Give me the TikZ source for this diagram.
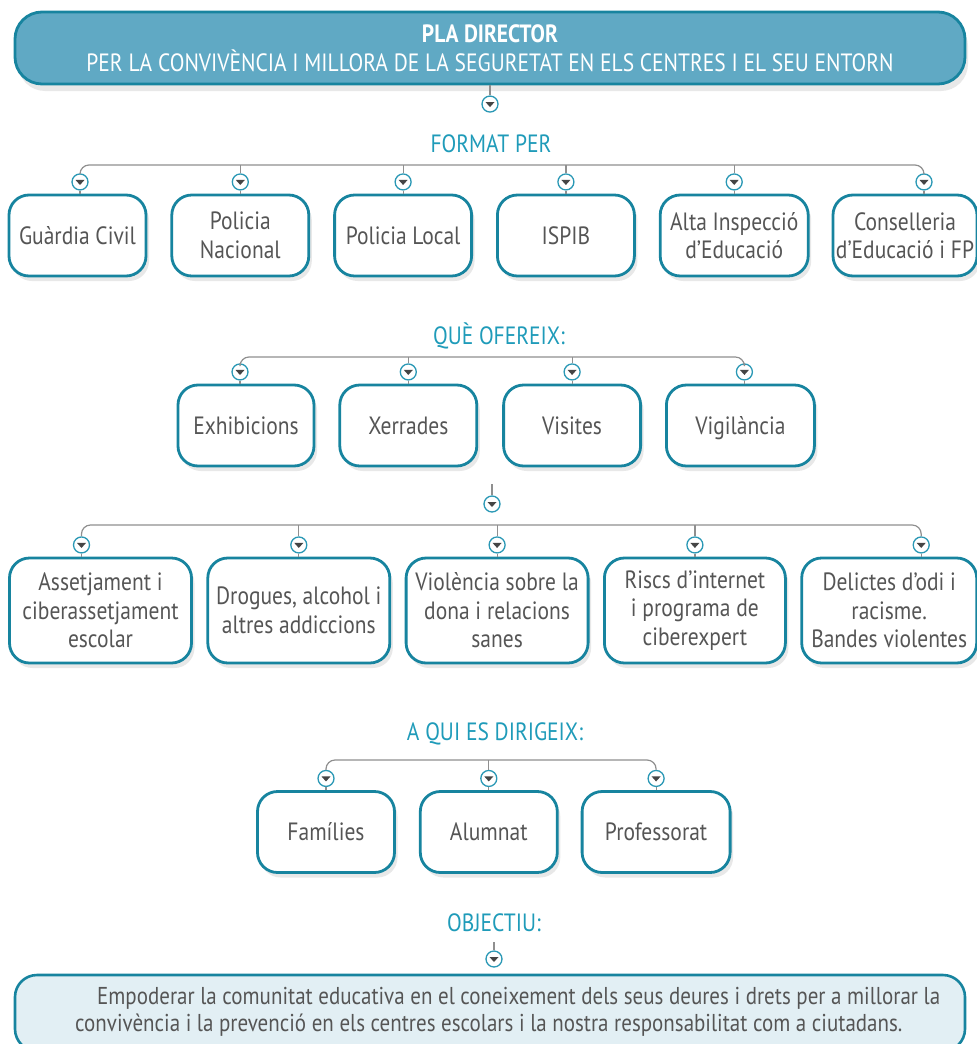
\documentclass[tikz,border=0pt]{standalone}
\usepackage{fontspec}
\setmainfont[FakeStretch=0.86]{PT Sans}
\usepackage{tikz}
\usetikzlibrary{positioning,shapes,shadows}
\definecolor{pdteal}{HTML}{17849F}
\definecolor{pdhead}{HTML}{60A9C4}
\definecolor{pdmark}{HTML}{2A98B5}
\definecolor{pdlabel}{HTML}{1F9BB9}
\definecolor{pdtext}{HTML}{555555}
\definecolor{pdline}{HTML}{8F8F8F}
\definecolor{pdtri}{HTML}{454545}
\definecolor{pdpale}{HTML}{E2EFF4}
\newcommand\pdfont{\fontsize{25}{28.5}\selectfont}
\newcommand\pdgoalfont{\fontsize{24.4}{27}\selectfont}

\begin{document}
\begin{tikzpicture}[x=1pt,y=-1pt,node distance=23pt,font=\pdfont,
    box/.style={rectangle,rounded corners=20pt,draw=pdteal,line width=2.8pt,fill=white,
      drop shadow={opacity=0.18,shadow xshift=3pt,shadow yshift=-5pt},
      text=pdtext,align=center,minimum width=137pt,minimum height=81pt,inner sep=1pt},
    wide/.style={box,minimum width=148pt},
    head/.style={rectangle,rounded corners=27pt,draw=pdteal,line width=2.8pt,fill=pdhead,
      drop shadow={opacity=0.18,shadow xshift=3pt,shadow yshift=-7pt},
      text=white,align=center,minimum width=950pt,minimum height=72pt},
    goal/.style={rectangle,rounded corners=22pt,draw=pdteal,line width=2.6pt,fill=pdpale,
      minimum width=950pt,minimum height=76pt},
    group/.style={text=pdlabel},
    marker/.style={circle,draw=pdmark,line width=1.3pt,fill=white,minimum size=16pt,inner sep=0pt,
      path picture={\fill[pdtri] ([xshift=-4.5pt,yshift=2pt]path picture bounding box.center)
        -- ([xshift=4.5pt,yshift=2pt]path picture bounding box.center)
        -- ([yshift=-3pt]path picture bounding box.center) -- cycle;}},
    link/.style={draw=pdline,line width=1.2pt},
    bar/.style={link,rounded corners=9pt}
    ]
    \useasboundingbox (0,0) rectangle (977,1044);

    % title
    \node[head] (header) at (490,48) {\textbf{PLA DIRECTOR}\\PER LA CONVIVÈNCIA I MILLORA DE LA SEGURETAT EN ELS CENTRES I EL SEU ENTORN};
    \node[marker,below=10pt of header] (mtop) {};
    \draw[link] (header) -- (mtop);

    % format per
    \node[group] (format) at (491,144) {FORMAT PER};
    \coordinate (bar1) at (491,165);
    \node[box] (guardia) at (77.5,235.5) {Guàrdia Civil};
    \node[box,right=of guardia] (nacional) {Policia\\Nacional};
    \node[box,right=of nacional] (local) {Policia Local};
    \node[box,right=of local] (ispib) {ISPIB};
    \node[wide,right=of ispib] (alta) {Alta Inspecció\\d’Educació};
    \node[wide,minimum width=144pt,right=22pt of alta] (consell) {Conselleria\\d’Educació i FP};
    \node[marker,above=3pt of guardia,xshift=2.5pt] (mguardia) {};
    \node[marker,above=3pt of consell,xshift=19pt] (mconsell) {};
    \foreach \b in {nacional,local,ispib,alta}
      \node[marker,above=3pt of \b] (m\b) {};

    \draw[bar] (mguardia.north) |- (bar1) -| (mconsell.north);
    \foreach \b in {nacional,local,ispib,alta}
      \draw[link] (m\b.north) -- (m\b.north |- bar1);
    \foreach \b in {guardia,nacional,local,ispib,alta,consell}
      \draw[link] (m\b.south) -- (m\b.south |- \b.north);

    % que ofereix
    \node[group] (ofereix) at (499,336) {QUÈ OFEREIX:};
    \coordinate (bar2) at (491,357);
    \node[box,minimum width=136pt] (exhib) at (246,425.5) {Exhibicions};
    \node[box,right=of exhib] (xerrades) {Xerrades};
    \node[box,right=24pt of xerrades] (visites) {Visites};
    \node[wide,right=of visites] (vigil) {Vi\smash{g}il\smash{à}ncia};
    \node[marker,above=3pt of exhib,xshift=-6pt] (mexhib) {};
    \node[marker,above=3pt of vigil,xshift=4pt] (mvigil) {};
    \foreach \b in {xerrades,visites}
      \node[marker,above=3pt of \b] (m\b) {};

    \draw[bar] (mexhib.north) |- (bar2) -| (mvigil.north);
    \foreach \b in {xerrades,visites}
      \draw[link] (m\b.north) -- (m\b.north |- bar2);
    \foreach \b in {exhib,xerrades,visites,vigil}
      \draw[link] (m\b.south) -- (m\b.south |- \b.north);

    % temes
    \coordinate (stem3) at (492,484);
    \node[marker] (mmid) at (492,504) {};
    \draw[link] (stem3) -- (mmid);
    \coordinate (bar3) at (492,525);
    \node[box,minimum width=182pt,minimum height=105pt] (assetj) at (100.5,610.5) {Assetjament i\\ciberassetjament\\escolar};
    \node[box,minimum width=182pt,minimum height=105pt,right=13.5pt of assetj] (drogues) {Drogues, alcohol i\\altres addiccions};
    \node[box,minimum width=182pt,minimum height=105pt,right=13.5pt of drogues] (violencia) {Violència sobre la\\dona i relacions\\sanes};
    \node[box,minimum width=181pt,minimum height=105pt,right=13.5pt of violencia] (riscs) {Riscs d’internet\\i programa de\\ciberexpert};
    \node[box,minimum width=175pt,minimum height=105pt,right=13.5pt of riscs] (delictes) {Delictes d’odi i\\racisme.\\Bandes violentes};
    \node[marker,above=3pt of assetj,xshift=-19pt] (massetj) {};
    \node[marker,above=3pt of delictes,xshift=32pt] (mdelictes) {};
    \foreach \b in {drogues,violencia,riscs}
      \node[marker,above=3pt of \b] (m\b) {};

    \draw[bar] (massetj.north) |- (bar3) -| (mdelictes.north);
    \foreach \b in {drogues,violencia,riscs}
      \draw[link] (m\b.north) -- (m\b.north |- bar3);
    \foreach \b in {assetj,drogues,violencia,riscs,delictes}
      \draw[link] (m\b.south) -- (m\b.south |- \b.north);

    % a qui es dirigeix
    \node[group] (dirigeix) at (495,734) {A QUI ES DIRIGEIX:};
    \coordinate (bar4) at (488,760);
    \node[box,minimum width=137pt] (families) at (326,832) {Famílies};
    \node[box,right=of families] (alumnat) {Alumnat};
    \node[wide,right=22pt of alumnat] (professorat) {Professorat};
    \foreach \b in {families,alumnat,professorat}
      \node[marker,above=3pt of \b] (m\b) {};

    \draw[bar] (mfamilies.north) |- (bar4) -| (mprofessorat.north);
    \draw[link] (malumnat.north) -- (malumnat.north |- bar4);
    \foreach \b in {families,alumnat,professorat}
      \draw[link] (m\b.south) -- (m\b.south |- \b.north);

    % objectiu
    \node[group] (objectiu) at (494,923) {OBJECTIU:};
    \coordinate (stemobj) at (494,942);
    \node[marker] (mobj) at (494,959) {};
    \draw[link] (stemobj) -- (mobj);
    \node[goal] (goal) at (490,1013) {};
    \node[text=pdtext,font=\pdgoalfont,align=left,anchor=west,inner sep=0pt] (goaltext) at (75,1012)
      {\hspace*{22pt}Empoderar la comunitat educativa en el coneixement dels seus deures i drets per a millorar la\\convivència i la prevenció en els centres escolars i la nostra responsabilitat com a ciutadans.};
  \end{tikzpicture}
\end{document}
